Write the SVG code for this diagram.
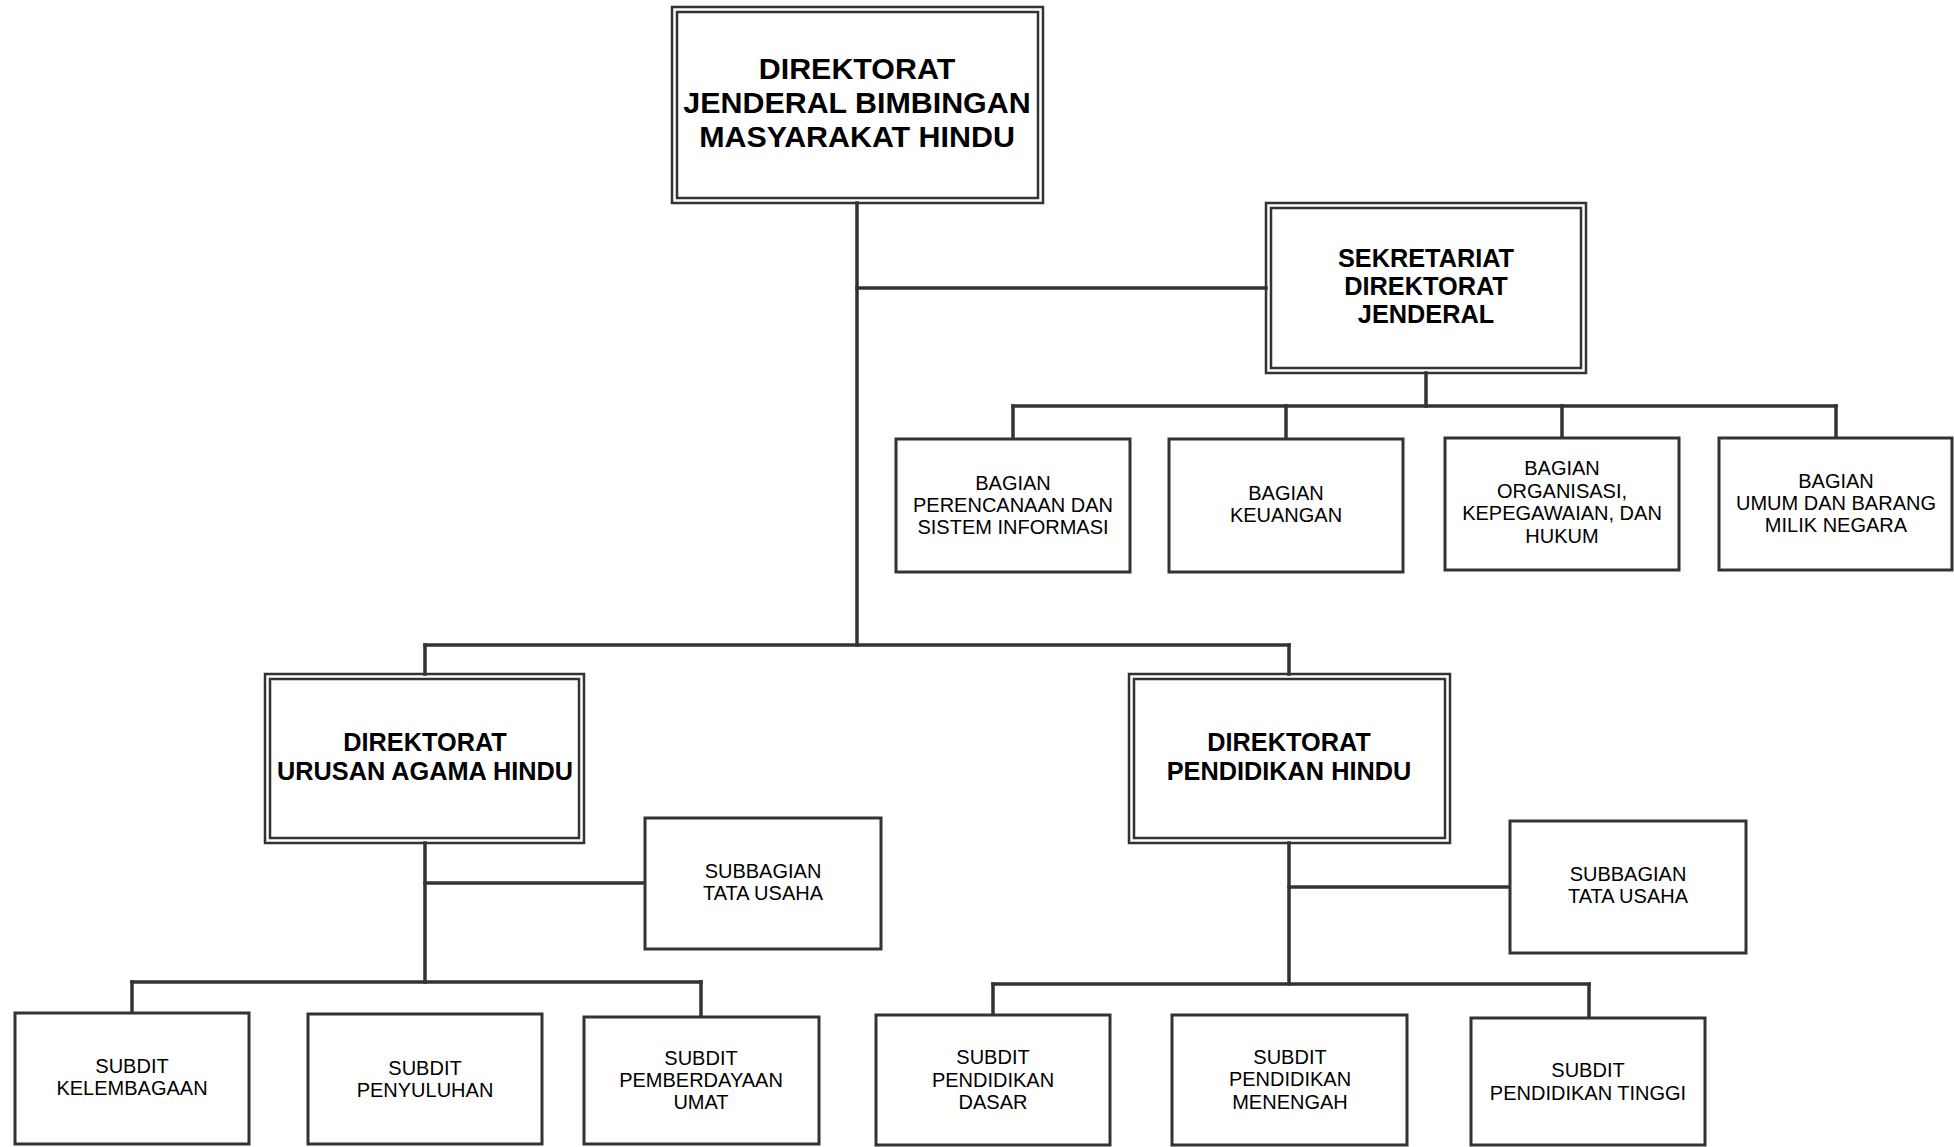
<svg xmlns="http://www.w3.org/2000/svg" width="1954" height="1147" viewBox="0 0 1954 1147">
<style>
.bg{fill:#ffffff}
.box{fill:#ffffff;stroke:#333333;stroke-width:3}
.dbl{fill:none;stroke:#333333;stroke-width:2.5}
.conn{fill:none;stroke:#333333;stroke-width:3.5;stroke-linecap:square}
.t{font-family:"Liberation Sans",Arial,sans-serif;font-size:20px;fill:#000000;text-anchor:middle}
.b30{font-family:"Liberation Sans",Arial,sans-serif;font-size:30.4px;font-weight:bold;fill:#000000;text-anchor:middle}
.b24{font-family:"Liberation Sans",Arial,sans-serif;font-size:25.3px;font-weight:bold;fill:#000000;text-anchor:middle}
</style>
<rect class="bg" x="0" y="0" width="1954" height="1147"/>
<g id="connectors">
<path class="conn" d="M857 203 V645"/>
<path class="conn" d="M857 288 H1266"/>
<path class="conn" d="M1426 373 V406"/>
<path class="conn" d="M1013 406 H1836"/>
<path class="conn" d="M1013 406 V439 M1286 406 V439 M1562 406 V438 M1836 406 V438"/>
<path class="conn" d="M425 645 H1289"/>
<path class="conn" d="M425 645 V674 M1289 645 V674"/>
<path class="conn" d="M425 843 V982"/>
<path class="conn" d="M425 883 H645"/>
<path class="conn" d="M132 982 H701"/>
<path class="conn" d="M132 982 V1013 M701 982 V1017"/>
<path class="conn" d="M1289 843 V984"/>
<path class="conn" d="M1289 887 H1510"/>
<path class="conn" d="M993 984 H1589"/>
<path class="conn" d="M993 984 V1015 M1589 984 V1018"/>
</g>
<g id="dirjen">
<rect class="dbl" x="672" y="7" width="371" height="196"/>
<rect class="dbl" x="677" y="12" width="361" height="186"/>
<text class="b30" x="857" y="79">DIREKTORAT</text>
<text class="b30" x="857" y="113">JENDERAL BIMBINGAN</text>
<text class="b30" x="857" y="147">MASYARAKAT HINDU</text>
</g>
<g id="sekretariat">
<rect class="dbl" x="1266" y="203" width="320" height="170"/>
<rect class="dbl" x="1271" y="208" width="310" height="160"/>
<text class="b24" x="1426" y="267">SEKRETARIAT</text>
<text class="b24" x="1426" y="295">DIREKTORAT</text>
<text class="b24" x="1426" y="323">JENDERAL</text>
</g>
<g id="bagian-perencanaan">
<rect class="box" x="896" y="439" width="234" height="133"/>
<text class="t" x="1013" y="490">BAGIAN</text>
<text class="t" x="1013" y="512">PERENCANAAN DAN</text>
<text class="t" x="1013" y="534">SISTEM INFORMASI</text>
</g>
<g id="bagian-keuangan">
<rect class="box" x="1169" y="439" width="234" height="133"/>
<text class="t" x="1286" y="500">BAGIAN</text>
<text class="t" x="1286" y="522">KEUANGAN</text>
</g>
<g id="bagian-organisasi">
<rect class="box" x="1445" y="438" width="234" height="132"/>
<text class="t" x="1562" y="475">BAGIAN</text>
<text class="t" x="1562" y="498">ORGANISASI,</text>
<text class="t" x="1562" y="520">KEPEGAWAIAN, DAN</text>
<text class="t" x="1562" y="543">HUKUM</text>
</g>
<g id="bagian-umum">
<rect class="box" x="1719" y="438" width="233" height="132"/>
<text class="t" x="1836" y="488">BAGIAN</text>
<text class="t" x="1836" y="510">UMUM DAN BARANG</text>
<text class="t" x="1836" y="532">MILIK NEGARA</text>
</g>
<g id="dir-urusan">
<rect class="dbl" x="265" y="674" width="319" height="169"/>
<rect class="dbl" x="270" y="679" width="309" height="159"/>
<text class="b24" x="425" y="751">DIREKTORAT</text>
<text class="b24" x="425" y="780">URUSAN AGAMA HINDU</text>
</g>
<g id="dir-pendidikan">
<rect class="dbl" x="1129" y="674" width="321" height="169"/>
<rect class="dbl" x="1134" y="679" width="311" height="159"/>
<text class="b24" x="1289" y="751">DIREKTORAT</text>
<text class="b24" x="1289" y="780">PENDIDIKAN HINDU</text>
</g>
<g id="subbag-tu-urusan">
<rect class="box" x="645" y="818" width="236" height="131"/>
<text class="t" x="763" y="878">SUBBAGIAN</text>
<text class="t" x="763" y="900">TATA USAHA</text>
</g>
<g id="subbag-tu-pendidikan">
<rect class="box" x="1510" y="821" width="236" height="132"/>
<text class="t" x="1628" y="881">SUBBAGIAN</text>
<text class="t" x="1628" y="903">TATA USAHA</text>
</g>
<g id="subdit-kelembagaan">
<rect class="box" x="15" y="1013" width="234" height="131"/>
<text class="t" x="132" y="1073">SUBDIT</text>
<text class="t" x="132" y="1095">KELEMBAGAAN</text>
</g>
<g id="subdit-penyuluhan">
<rect class="box" x="308" y="1014" width="234" height="130"/>
<text class="t" x="425" y="1075">SUBDIT</text>
<text class="t" x="425" y="1097">PENYULUHAN</text>
</g>
<g id="subdit-pemberdayaan">
<rect class="box" x="584" y="1017" width="235" height="127"/>
<text class="t" x="701" y="1065">SUBDIT</text>
<text class="t" x="701" y="1087">PEMBERDAYAAN</text>
<text class="t" x="701" y="1109">UMAT</text>
</g>
<g id="subdit-dasar">
<rect class="box" x="876" y="1015" width="234" height="130"/>
<text class="t" x="993" y="1064">SUBDIT</text>
<text class="t" x="993" y="1087">PENDIDIKAN</text>
<text class="t" x="993" y="1109">DASAR</text>
</g>
<g id="subdit-menengah">
<rect class="box" x="1172" y="1015" width="235" height="130"/>
<text class="t" x="1290" y="1064">SUBDIT</text>
<text class="t" x="1290" y="1086">PENDIDIKAN</text>
<text class="t" x="1290" y="1109">MENENGAH</text>
</g>
<g id="subdit-tinggi">
<rect class="box" x="1471" y="1018" width="234" height="127"/>
<text class="t" x="1588" y="1077">SUBDIT</text>
<text class="t" x="1588" y="1100">PENDIDIKAN TINGGI</text>
</g>
</svg>
